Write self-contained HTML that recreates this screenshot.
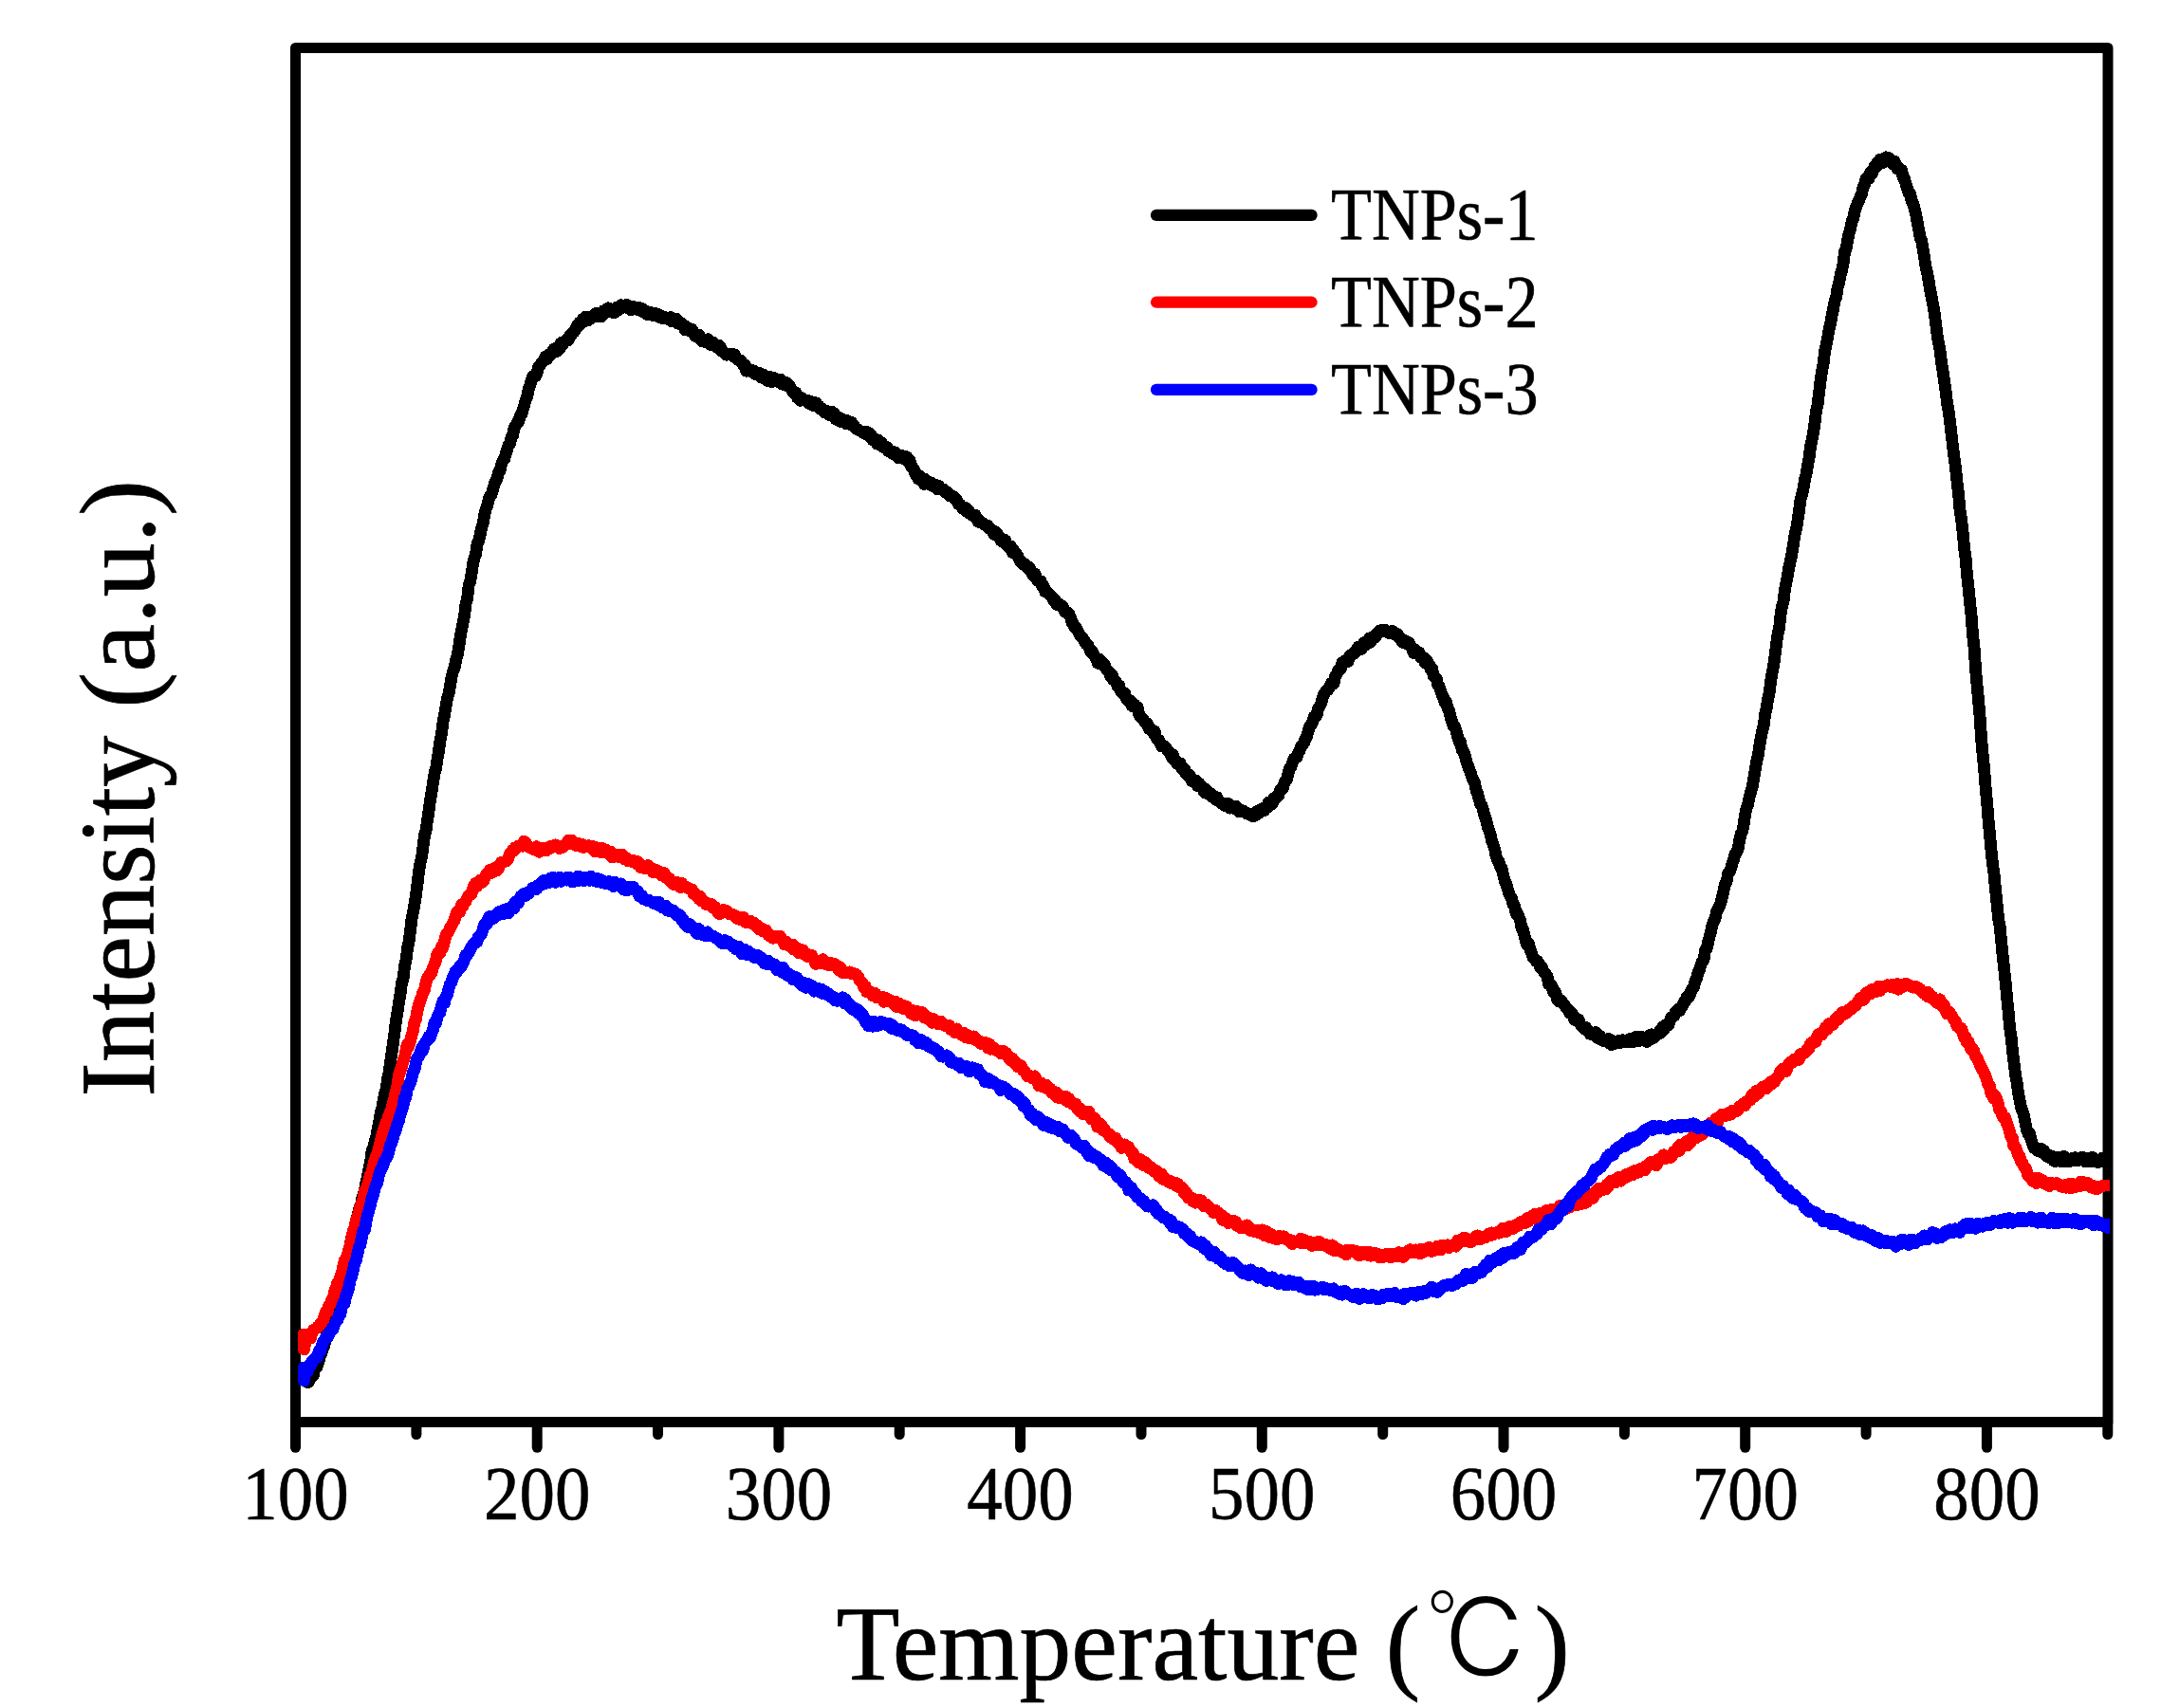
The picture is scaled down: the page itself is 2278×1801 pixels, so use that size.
<!DOCTYPE html>
<html lang="en"><head><meta charset="utf-8"><title>TPD profiles</title>
<style>html,body{margin:0;padding:0;background:#fff}svg{display:block}</style></head>
<body>
<svg width="2278" height="1801" viewBox="0 0 2278 1801">
<rect x="0" y="0" width="2278" height="1801" fill="#fff"/>
<clipPath id="pc"><rect x="311.5" y="50.5" width="1912.5" height="1449.0"/></clipPath>
<g stroke="#000" stroke-width="11" fill="none" stroke-linecap="round">
<path d="M311.5 1499.5 V50.5 H2222.0 V1499.5 Z" stroke-linejoin="round"/>
<path d="M311.5 1500.5 V1526.3"/>
<path d="M438.9 1500.5 V1512.5"/>
<path d="M566.2 1500.5 V1526.3"/>
<path d="M693.5 1500.5 V1512.5"/>
<path d="M820.9 1500.5 V1526.3"/>
<path d="M948.2 1500.5 V1512.5"/>
<path d="M1075.6 1500.5 V1526.3"/>
<path d="M1203.0 1500.5 V1512.5"/>
<path d="M1330.3 1500.5 V1526.3"/>
<path d="M1457.7 1500.5 V1512.5"/>
<path d="M1585.0 1500.5 V1526.3"/>
<path d="M1712.4 1500.5 V1512.5"/>
<path d="M1839.7 1500.5 V1526.3"/>
<path d="M1967.1 1500.5 V1512.5"/>
<path d="M2094.4 1500.5 V1526.3"/>
<path d="M2221.8 1500.5 V1512.5"/>
</g>
<g clip-path="url(#pc)" fill="none" stroke-linejoin="round" stroke-linecap="round" shape-rendering="crispEdges"><path stroke="#000" stroke-width="12.8" d="M323.1 1456.8 324.6 1457.6 326.1 1455.9 327.6 1451.1 329.1 1450.0 330.6 1449.9 332.1 1441.3 333.6 1442.1 335.1 1438.2 336.6 1433.0 338.1 1428.4 339.6 1424.6 341.1 1420.8 342.6 1415.2 344.1 1408.9 345.6 1403.7 347.1 1399.1 348.6 1391.4 350.1 1384.5 351.6 1381.6 353.1 1372.7 354.6 1367.2 356.1 1365.3 357.6 1357.6 359.1 1352.9 360.6 1349.0 362.1 1343.8 363.6 1339.3 365.1 1331.8 366.6 1324.5 368.1 1318.2 369.6 1310.6 371.1 1303.1 372.6 1297.2 374.1 1294.6 375.6 1286.6 377.1 1281.6 378.6 1274.5 380.1 1274.4 381.6 1264.2 383.1 1259.0 384.6 1254.7 386.1 1245.6 387.6 1239.7 389.1 1231.2 390.6 1224.4 392.1 1213.3 393.6 1209.9 395.1 1203.6 396.6 1199.2 398.1 1190.1 399.6 1184.1 401.1 1173.9 402.6 1168.9 404.1 1161.0 405.6 1152.9 407.1 1148.5 408.6 1137.0 410.1 1130.7 411.6 1119.3 413.1 1109.4 414.6 1098.7 416.1 1087.6 417.6 1075.1 419.1 1067.1 420.6 1056.0 422.1 1047.3 423.6 1036.0 425.1 1031.6 426.6 1018.1 428.1 1011.8 429.6 999.2 431.1 992.8 432.6 981.1 434.1 968.1 435.6 961.3 437.1 952.7 438.6 943.1 440.1 931.4 441.6 918.8 443.1 909.8 444.6 903.6 446.1 892.2 447.6 880.5 449.1 875.3 450.6 864.4 452.1 854.6 453.6 843.4 455.1 834.4 456.6 824.6 458.1 814.8 459.6 810.6 461.1 800.0 462.6 791.1 464.1 780.6 465.6 773.3 467.1 760.4 468.6 753.7 470.1 744.2 471.6 735.5 473.1 731.3 474.6 722.5 476.1 713.6 477.6 707.7 479.1 704.4 480.6 696.3 482.1 691.3 483.6 682.9 485.1 672.1 486.6 663.9 488.1 656.3 489.6 649.0 491.1 636.0 492.6 631.7 494.1 617.3 495.6 613.4 497.1 604.9 498.6 594.4 500.1 588.1 501.6 584.3 503.1 573.1 504.6 570.2 506.1 564.0 507.6 557.0 509.1 552.5 510.6 543.6 512.1 537.3 513.6 533.3 515.1 526.7 516.6 522.6 518.1 521.6 519.6 516.2 521.1 510.9 522.6 506.6 524.1 504.9 525.6 497.9 527.1 496.3 528.6 489.5 530.1 485.5 531.6 484.4 533.1 478.9 534.6 474.2 536.1 469.3 537.6 467.5 539.1 460.6 540.6 459.4 542.1 450.9 543.6 449.0 545.1 445.9 546.6 445.3 548.1 438.7 549.6 437.2 551.1 432.6 552.6 427.7 554.1 421.8 555.6 418.7 557.1 410.6 558.6 406.7 560.1 401.2 561.6 397.3 563.1 395.8 564.6 396.6 566.1 392.9 567.6 386.4 569.1 385.5 570.6 382.7 572.1 381.3 573.6 379.4 575.1 375.7 576.6 378.6 578.1 374.1 579.6 373.8 581.1 373.6 582.6 369.7 584.1 367.8 585.6 369.2 587.1 370.5 588.6 368.8 590.1 367.2 591.6 361.3 593.1 363.2 594.6 360.9 596.1 359.9 597.6 357.6 599.1 358.9 600.6 354.1 602.1 353.1 603.6 351.0 605.1 350.1 606.6 347.6 608.1 344.0 609.6 344.3 611.1 339.8 612.6 340.6 614.1 336.6 615.6 339.3 617.1 334.2 618.6 334.4 620.1 337.7 621.6 334.8 623.1 335.6 624.6 334.1 626.1 333.9 627.6 330.8 629.1 333.0 630.6 330.0 632.1 334.1 633.6 333.9 635.1 333.0 636.6 327.6 638.1 327.5 639.6 326.1 641.1 324.7 642.6 327.7 644.1 328.8 645.6 326.7 647.1 329.9 648.6 329.2 650.1 324.3 651.6 326.8 653.1 326.2 654.6 321.8 656.1 324.1 657.6 324.1 659.1 323.8 660.6 321.4 662.1 324.9 663.6 324.7 665.1 326.7 666.6 326.5 668.1 323.6 669.6 325.5 671.1 326.1 672.6 326.8 674.1 324.5 675.6 325.0 677.1 328.5 678.6 326.6 680.1 329.0 681.6 331.5 683.1 328.8 684.6 329.1 686.1 330.9 687.6 332.4 689.1 329.9 690.6 331.7 692.1 330.8 693.6 333.8 695.1 334.6 696.6 332.7 698.1 333.7 699.6 336.0 701.1 334.7 702.6 335.6 704.1 336.3 705.6 337.4 707.1 334.5 708.6 338.9 710.1 338.7 711.6 337.4 713.1 336.3 714.6 341.1 716.1 339.5 717.6 340.4 719.1 341.6 720.6 342.5 722.1 348.0 723.6 344.7 725.1 345.5 726.6 348.7 728.1 348.2 729.6 347.5 731.1 350.1 732.6 354.0 734.1 353.3 735.6 356.0 737.1 353.3 738.6 358.4 740.1 359.9 741.6 360.2 743.1 360.2 744.6 359.7 746.1 357.7 747.6 361.1 749.1 363.4 750.6 360.9 752.1 361.1 753.6 364.2 755.1 365.3 756.6 366.7 758.1 364.2 759.6 366.4 761.1 370.6 762.6 370.9 764.1 372.4 765.6 374.2 767.1 374.1 768.6 373.9 770.1 374.3 771.6 373.1 773.1 375.8 774.6 374.1 776.1 377.8 777.6 379.1 779.1 379.9 780.6 380.0 782.1 382.3 783.6 385.1 785.1 385.0 786.6 391.2 788.1 390.1 789.6 389.5 791.1 390.1 792.6 392.1 794.1 390.7 795.6 393.7 797.1 395.1 798.6 393.6 800.1 393.0 801.6 396.4 803.1 398.3 804.6 394.9 806.1 399.0 807.6 399.8 809.1 401.5 810.6 397.5 812.1 397.7 813.6 402.8 815.1 398.4 816.6 398.9 818.1 401.8 819.6 401.2 821.1 402.9 822.6 400.1 824.1 405.0 825.6 402.4 827.1 406.0 828.6 403.3 830.1 406.9 831.6 405.9 833.1 409.0 834.6 410.6 836.1 413.9 837.6 414.5 839.1 413.8 840.6 419.7 842.1 420.5 843.6 422.3 845.1 419.6 846.6 421.7 848.1 422.0 849.6 422.4 851.1 421.9 852.6 425.2 854.1 423.3 855.6 423.8 857.1 427.5 858.6 426.6 860.1 424.8 861.6 428.8 863.1 428.1 864.6 431.3 866.1 430.4 867.6 433.3 869.1 435.0 870.6 434.4 872.1 433.7 873.6 436.9 875.1 437.9 876.6 434.1 878.1 435.4 879.6 436.2 881.1 442.2 882.6 442.7 884.1 440.3 885.6 444.4 887.1 441.4 888.6 443.8 890.1 444.6 891.6 446.7 893.1 443.6 894.6 445.8 896.1 447.6 897.6 445.3 899.1 447.8 900.6 449.3 902.1 452.0 903.6 452.2 905.1 453.4 906.6 454.3 908.1 454.9 909.6 456.4 911.1 456.7 912.6 457.8 914.1 455.4 915.6 456.4 917.1 460.9 918.6 458.9 920.1 464.2 921.6 463.5 923.1 462.9 924.6 468.1 926.1 464.4 927.6 467.4 929.1 466.6 930.6 471.3 932.1 469.8 933.6 472.9 935.1 471.5 936.6 475.8 938.1 476.1 939.6 476.2 941.1 478.6 942.6 476.8 944.1 477.3 945.6 480.4 947.1 483.1 948.6 480.6 950.1 482.6 951.6 480.7 953.1 483.9 954.6 484.9 956.1 481.8 957.6 487.2 959.1 485.5 960.6 492.2 962.1 493.1 963.6 495.6 965.1 500.4 966.6 500.8 968.1 505.1 969.6 501.7 971.1 506.1 972.6 507.3 974.1 510.5 975.6 505.5 977.1 509.2 978.6 510.4 980.1 510.1 981.6 508.8 983.1 512.6 984.6 511.1 986.1 511.4 987.6 515.6 989.1 512.0 990.6 513.8 992.1 516.0 993.6 516.5 995.1 516.4 996.6 519.4 998.1 518.6 999.6 520.4 1001.1 522.9 1002.6 523.3 1004.1 523.4 1005.6 523.8 1007.1 526.4 1008.6 527.1 1010.1 531.3 1011.6 531.5 1013.1 533.4 1014.6 536.3 1016.1 536.0 1017.6 535.4 1019.1 539.5 1020.6 537.9 1022.1 541.3 1023.6 542.6 1025.1 542.5 1026.6 544.2 1028.1 543.0 1029.6 546.5 1031.1 550.2 1032.6 549.1 1034.1 551.0 1035.6 551.5 1037.1 552.6 1038.6 553.5 1040.1 554.9 1041.6 554.6 1043.1 557.3 1044.6 558.5 1046.1 559.5 1047.6 563.5 1049.1 560.6 1050.6 563.0 1052.1 563.9 1053.6 567.0 1055.1 570.1 1056.6 570.9 1058.1 568.8 1059.6 569.5 1061.1 574.9 1062.6 574.7 1064.1 577.5 1065.6 575.9 1067.1 582.5 1068.6 580.3 1070.1 583.2 1071.6 584.2 1073.1 586.9 1074.6 590.3 1076.1 592.9 1077.6 592.9 1079.1 595.5 1080.6 594.9 1082.1 596.9 1083.6 599.3 1085.1 598.3 1086.6 601.0 1088.1 605.2 1089.6 607.4 1091.1 604.9 1092.6 610.6 1094.1 612.5 1095.6 612.6 1097.1 612.7 1098.6 618.0 1100.1 618.1 1101.6 623.6 1103.1 623.7 1104.6 625.7 1106.1 626.0 1107.6 628.2 1109.1 629.9 1110.6 633.1 1112.1 632.1 1113.6 637.4 1115.1 635.9 1116.6 637.3 1118.1 638.0 1119.6 638.9 1121.1 642.0 1122.6 645.2 1124.1 645.8 1125.6 645.7 1127.1 647.9 1128.6 651.4 1130.1 656.7 1131.6 658.0 1133.1 661.8 1134.6 662.1 1136.1 665.2 1137.6 668.1 1139.1 670.7 1140.6 672.0 1142.1 674.0 1143.6 677.0 1145.1 679.2 1146.6 679.6 1148.1 683.1 1149.6 687.1 1151.1 686.7 1152.6 689.7 1154.1 692.3 1155.6 694.1 1157.1 699.2 1158.6 694.9 1160.1 696.7 1161.6 697.7 1163.1 701.8 1164.6 701.4 1166.1 705.3 1167.6 706.7 1169.1 708.8 1170.6 712.8 1172.1 711.3 1173.6 716.7 1175.1 717.1 1176.6 719.3 1178.1 723.7 1179.6 722.5 1181.1 728.2 1182.6 730.4 1184.1 732.1 1185.6 730.8 1187.1 736.2 1188.6 737.6 1190.1 740.2 1191.6 738.7 1193.1 744.2 1194.6 745.1 1196.1 742.9 1197.6 745.7 1199.1 745.4 1200.6 752.7 1202.1 755.8 1203.6 757.6 1205.1 758.2 1206.6 761.2 1208.1 762.1 1209.6 763.4 1211.1 768.2 1212.6 768.1 1214.1 769.1 1215.6 772.7 1217.1 771.1 1218.6 777.6 1220.1 779.5 1221.6 780.2 1223.1 784.3 1224.6 786.9 1226.1 786.8 1227.6 787.0 1229.1 788.7 1230.6 791.1 1232.1 792.7 1233.6 794.2 1235.1 798.4 1236.6 796.1 1238.1 801.6 1239.6 802.6 1241.1 805.7 1242.6 804.9 1244.1 804.8 1245.6 810.6 1247.1 809.4 1248.6 810.6 1250.1 816.0 1251.6 817.3 1253.1 816.6 1254.6 818.3 1256.1 823.4 1257.6 821.6 1259.1 824.8 1260.6 823.1 1262.1 828.4 1263.6 825.5 1265.1 829.1 1266.6 828.7 1268.1 832.3 1269.6 835.5 1271.1 832.2 1272.6 833.9 1274.1 837.5 1275.6 838.1 1277.1 837.1 1278.6 840.6 1280.1 840.4 1281.6 843.4 1283.1 840.8 1284.6 844.7 1286.1 845.3 1287.6 847.4 1289.1 846.9 1290.6 849.0 1292.1 849.7 1293.6 848.4 1295.1 847.4 1296.6 852.1 1298.1 851.9 1299.6 849.8 1301.1 852.5 1302.6 850.0 1304.1 851.9 1305.6 855.5 1307.1 853.5 1308.6 854.8 1310.1 856.0 1311.6 855.5 1313.1 856.9 1314.6 858.1 1316.1 858.1 1317.6 858.2 1319.1 860.2 1320.6 858.3 1322.1 860.4 1323.6 860.0 1325.1 855.6 1326.6 857.5 1328.1 856.1 1329.6 853.3 1331.1 852.4 1332.6 854.8 1334.1 851.4 1335.6 851.8 1337.1 846.3 1338.6 848.3 1340.1 848.4 1341.6 846.9 1343.1 841.4 1344.6 841.8 1346.1 838.9 1347.6 839.5 1349.1 833.7 1350.6 831.6 1352.1 831.7 1353.6 826.8 1355.1 823.0 1356.6 821.7 1358.1 814.6 1359.6 809.7 1361.1 808.4 1362.6 803.7 1364.1 799.9 1365.6 799.1 1367.1 798.5 1368.6 793.6 1370.1 791.2 1371.6 787.2 1373.1 785.3 1374.6 783.3 1376.1 778.8 1377.6 776.4 1379.1 771.0 1380.6 765.6 1382.1 764.5 1383.6 761.3 1385.1 756.1 1386.6 756.2 1388.1 754.0 1389.6 746.8 1391.1 744.8 1392.6 741.9 1394.1 735.8 1395.6 732.0 1397.1 729.8 1398.6 728.4 1400.1 727.0 1401.6 724.7 1403.1 720.6 1404.6 721.7 1406.1 720.3 1407.6 712.8 1409.1 710.9 1410.6 706.7 1412.1 706.4 1413.6 704.6 1415.1 698.4 1416.6 698.2 1418.1 696.4 1419.6 696.7 1421.1 697.6 1422.6 691.9 1424.1 690.6 1425.6 690.5 1427.1 688.7 1428.6 688.1 1430.1 685.3 1431.6 682.4 1433.1 682.8 1434.6 684.8 1436.1 683.1 1437.6 677.8 1439.1 680.6 1440.6 676.3 1442.1 678.2 1443.6 672.9 1445.1 676.8 1446.6 671.7 1448.1 671.8 1449.6 672.0 1451.1 669.6 1452.6 666.5 1454.1 665.1 1455.6 666.0 1457.1 663.9 1458.6 665.0 1460.1 664.3 1461.6 665.9 1463.1 666.1 1464.6 667.8 1466.1 666.1 1467.6 665.2 1469.1 667.4 1470.6 669.5 1472.1 668.1 1473.6 669.1 1475.1 672.8 1476.6 673.0 1478.1 676.7 1479.6 677.5 1481.1 675.6 1482.6 678.7 1484.1 676.9 1485.6 678.3 1487.1 681.1 1488.6 684.4 1490.1 688.4 1491.6 684.9 1493.1 688.0 1494.6 688.8 1496.1 687.9 1497.6 693.2 1499.1 694.0 1500.6 693.2 1502.1 699.1 1503.6 696.0 1505.1 698.5 1506.6 700.8 1508.1 706.1 1509.6 704.6 1511.1 712.8 1512.6 714.2 1514.1 715.2 1515.6 721.7 1517.1 723.5 1518.6 728.3 1520.1 732.5 1521.6 735.6 1523.1 741.1 1524.6 740.4 1526.1 747.1 1527.6 749.7 1529.1 756.4 1530.6 760.9 1532.1 765.8 1533.6 766.0 1535.1 770.8 1536.6 777.2 1538.1 782.0 1539.6 782.5 1541.1 790.5 1542.6 792.3 1544.1 795.8 1545.6 802.2 1547.1 806.4 1548.6 810.8 1550.1 814.2 1551.6 819.4 1553.1 822.5 1554.6 825.5 1556.1 833.5 1557.6 836.8 1559.1 842.4 1560.6 847.8 1562.1 849.4 1563.6 854.6 1565.1 860.6 1566.6 864.5 1568.1 871.5 1569.6 875.5 1571.1 879.8 1572.6 886.7 1574.1 890.8 1575.6 895.3 1577.1 903.0 1578.6 907.4 1580.1 908.8 1581.6 914.6 1583.1 915.7 1584.6 922.5 1586.1 928.5 1587.6 931.9 1589.1 936.4 1590.6 942.0 1592.1 945.3 1593.6 947.1 1595.1 954.1 1596.6 955.2 1598.1 963.5 1599.6 963.1 1601.1 967.0 1602.6 970.5 1604.1 979.3 1605.6 980.1 1607.1 986.8 1608.6 993.4 1610.1 997.0 1611.6 995.1 1613.1 1001.6 1614.6 1005.2 1616.1 1009.5 1617.6 1010.9 1619.1 1013.3 1620.6 1013.4 1622.1 1015.7 1623.6 1020.2 1625.1 1019.7 1626.6 1023.3 1628.1 1025.7 1629.6 1027.2 1631.1 1029.6 1632.6 1037.9 1634.1 1037.6 1635.6 1039.4 1637.1 1045.4 1638.6 1044.5 1640.1 1047.9 1641.6 1053.7 1643.1 1055.9 1644.6 1055.7 1646.1 1055.2 1647.6 1058.6 1649.1 1059.4 1650.6 1062.2 1652.1 1063.2 1653.6 1065.2 1655.1 1068.6 1656.6 1068.0 1658.1 1070.1 1659.6 1075.3 1661.1 1073.2 1662.6 1075.3 1664.1 1075.2 1665.6 1079.6 1667.1 1081.6 1668.6 1082.5 1670.1 1085.0 1671.6 1083.4 1673.1 1086.0 1674.6 1087.8 1676.1 1090.3 1677.6 1089.3 1679.1 1089.0 1680.6 1089.7 1682.1 1088.6 1683.6 1094.4 1685.1 1091.9 1686.6 1092.4 1688.1 1096.2 1689.6 1097.5 1691.1 1097.7 1692.6 1096.4 1694.1 1096.0 1695.6 1095.4 1697.1 1100.1 1698.6 1101.6 1700.1 1097.4 1701.6 1100.6 1703.1 1098.6 1704.6 1098.5 1706.1 1099.4 1707.6 1097.0 1709.1 1099.2 1710.6 1096.8 1712.1 1098.4 1713.6 1097.7 1715.1 1098.9 1716.6 1098.8 1718.1 1095.4 1719.6 1095.1 1721.1 1098.7 1722.6 1095.7 1724.1 1093.5 1725.6 1093.6 1727.1 1098.0 1728.6 1094.9 1730.1 1093.0 1731.6 1095.8 1733.1 1095.8 1734.6 1095.3 1736.1 1098.5 1737.6 1097.5 1739.1 1091.6 1740.6 1090.9 1742.1 1093.0 1743.6 1094.4 1745.1 1092.0 1746.6 1091.3 1748.1 1090.0 1749.6 1086.9 1751.1 1088.6 1752.6 1082.6 1754.1 1085.4 1755.6 1080.9 1757.1 1080.2 1758.6 1081.2 1760.1 1077.4 1761.6 1072.8 1763.1 1072.3 1764.6 1071.5 1766.1 1067.4 1767.6 1066.5 1769.1 1064.1 1770.6 1065.7 1772.1 1062.7 1773.6 1060.3 1775.1 1056.9 1776.6 1056.2 1778.1 1050.9 1779.6 1052.4 1781.1 1049.6 1782.6 1045.1 1784.1 1042.2 1785.6 1040.4 1787.1 1033.6 1788.6 1031.8 1790.1 1024.8 1791.6 1022.6 1793.1 1016.8 1794.6 1013.5 1796.1 1012.0 1797.6 1001.6 1799.1 1000.9 1800.6 993.5 1802.1 987.7 1803.6 982.1 1805.1 975.4 1806.6 971.1 1808.1 968.0 1809.6 961.3 1811.1 958.6 1812.6 955.5 1814.1 951.2 1815.6 945.4 1817.1 938.7 1818.6 931.4 1820.1 930.0 1821.6 920.8 1823.1 919.7 1824.6 915.9 1826.1 910.1 1827.6 906.1 1829.1 899.9 1830.6 899.1 1832.1 895.1 1833.6 886.6 1835.1 879.6 1836.6 876.8 1838.1 869.6 1839.6 859.0 1841.1 851.9 1842.6 848.1 1844.1 840.5 1845.6 835.1 1847.1 830.1 1848.6 821.6 1850.1 813.0 1851.6 803.2 1853.1 797.5 1854.6 787.5 1856.1 778.7 1857.6 771.1 1859.1 765.4 1860.6 753.5 1862.1 747.2 1863.6 737.2 1865.1 730.6 1866.6 719.0 1868.1 709.3 1869.6 702.1 1871.1 691.2 1872.6 678.1 1874.1 667.8 1875.6 662.1 1877.1 647.4 1878.6 639.1 1880.1 634.0 1881.6 620.8 1883.1 613.4 1884.6 605.6 1886.1 597.0 1887.6 590.6 1889.1 583.1 1890.6 573.6 1892.1 562.7 1893.6 557.1 1895.1 548.0 1896.6 537.9 1898.1 526.4 1899.6 521.3 1901.1 514.5 1902.6 505.4 1904.1 499.8 1905.6 490.4 1907.1 482.6 1908.6 470.1 1910.1 463.6 1911.6 455.7 1913.1 445.6 1914.6 432.7 1916.1 426.5 1917.6 413.7 1919.1 401.3 1920.6 391.1 1922.1 383.7 1923.6 370.7 1925.1 363.7 1926.6 356.0 1928.1 347.0 1929.6 341.3 1931.1 332.4 1932.6 325.8 1934.1 317.0 1935.6 313.9 1937.1 303.3 1938.6 298.6 1940.1 290.1 1941.6 285.2 1943.1 277.5 1944.6 265.4 1946.1 262.9 1947.6 253.7 1949.1 245.9 1950.6 241.8 1952.1 233.0 1953.6 230.7 1955.1 223.1 1956.6 218.2 1958.1 214.2 1959.6 211.6 1961.1 207.4 1962.6 204.1 1964.1 197.1 1965.6 194.6 1967.1 187.9 1968.6 186.9 1970.1 188.4 1971.6 181.9 1973.1 183.4 1974.6 179.5 1976.1 175.5 1977.6 175.6 1979.1 171.2 1980.6 173.1 1982.1 168.0 1983.6 167.9 1985.1 171.4 1986.6 168.9 1988.1 165.8 1989.6 167.6 1991.1 166.7 1992.6 168.4 1994.1 171.0 1995.6 173.2 1997.1 169.9 1998.6 173.7 2000.1 178.1 2001.6 176.8 2003.1 179.9 2004.6 179.3 2006.1 187.2 2007.6 188.5 2009.1 194.5 2010.6 198.6 2012.1 203.9 2013.6 203.8 2015.1 212.0 2016.6 214.0 2018.1 219.6 2019.6 226.0 2021.1 234.0 2022.6 241.7 2024.1 250.8 2025.6 253.2 2027.1 262.3 2028.6 271.6 2030.1 281.6 2031.6 288.2 2033.1 295.9 2034.6 305.4 2036.1 312.9 2037.6 321.0 2039.1 329.0 2040.6 341.1 2042.1 353.5 2043.6 361.9 2045.1 369.8 2046.6 382.1 2048.1 391.2 2049.6 402.3 2051.1 412.6 2052.6 425.3 2054.1 433.4 2055.6 445.2 2057.1 457.9 2058.6 471.2 2060.1 482.9 2061.6 494.2 2063.1 508.9 2064.6 521.6 2066.1 538.5 2067.6 547.8 2069.1 561.0 2070.6 578.0 2072.1 588.5 2073.6 607.1 2075.1 620.1 2076.6 635.6 2078.1 649.1 2079.6 670.2 2081.1 683.1 2082.6 706.1 2084.1 723.1 2085.6 738.7 2087.1 756.3 2088.6 778.8 2090.1 795.4 2091.6 810.9 2093.1 830.4 2094.6 846.3 2096.1 864.7 2097.6 880.9 2099.1 897.6 2100.6 911.7 2102.1 922.1 2103.6 938.9 2105.1 953.0 2106.6 968.6 2108.1 976.8 2109.6 991.9 2111.1 1007.4 2112.6 1021.1 2114.1 1035.1 2115.6 1052.0 2117.1 1066.5 2118.6 1084.0 2120.1 1093.5 2121.6 1108.8 2123.1 1121.0 2124.6 1134.0 2126.1 1141.3 2127.6 1153.3 2129.1 1160.6 2130.6 1168.3 2132.1 1171.6 2133.6 1177.0 2135.1 1184.7 2136.6 1191.9 2138.1 1195.6 2139.6 1195.2 2141.1 1201.7 2142.6 1206.4 2144.1 1210.2 2145.6 1210.4 2147.1 1212.5 2148.6 1213.6 2150.1 1211.9 2151.6 1211.1 2153.1 1215.5 2154.6 1213.5 2156.1 1215.5 2157.6 1219.3 2159.1 1217.7 2160.6 1218.3 2162.1 1221.6 2163.6 1219.4 2165.1 1224.1 2166.6 1224.5 2168.1 1221.4 2169.6 1220.7 2171.1 1220.1 2172.6 1224.9 2174.1 1220.5 2175.6 1219.3 2177.1 1225.0 2178.6 1223.5 2180.1 1223.5 2181.6 1224.7 2183.1 1221.8 2184.6 1222.0 2186.1 1223.4 2187.6 1220.7 2189.1 1223.0 2190.6 1223.7 2192.1 1223.0 2193.6 1222.7 2195.1 1220.0 2196.6 1221.2 2198.1 1225.0 2199.6 1221.2 2201.1 1223.9 2202.6 1221.4 2204.1 1225.1 2205.6 1220.5 2207.1 1221.4 2208.6 1222.5 2210.1 1223.3 2211.6 1225.7 2213.1 1224.5 2214.6 1222.7 2216.1 1221.1 2217.6 1224.5 2219.1 1225.3 2220.6 1220.9 2222.1 1224.0 2223.6 1220.5 2225.1 1222.1 2228.0 1222.1"/>
<path stroke="#f00" stroke-width="12.8" d="M320.0 1407.0 320.6 1423.0 321.3 1417.7 322.8 1414.3 324.3 1410.7 325.8 1409.6 327.3 1411.3 328.8 1405.1 330.3 1402.4 331.8 1401.6 333.3 1401.0 334.8 1399.2 336.3 1398.4 337.8 1395.9 339.3 1394.3 340.8 1392.0 342.3 1386.9 343.8 1382.4 345.3 1383.8 346.8 1376.3 348.3 1375.5 349.8 1370.1 351.3 1369.4 352.8 1360.9 354.3 1357.7 355.8 1352.5 357.3 1352.3 358.8 1346.6 360.3 1342.6 361.8 1335.7 363.3 1328.9 364.8 1327.7 366.3 1322.7 367.8 1317.1 369.3 1312.4 370.8 1305.5 372.3 1297.8 373.8 1294.1 375.3 1287.0 376.8 1284.0 378.3 1277.6 379.8 1272.6 381.3 1269.4 382.8 1264.5 384.3 1256.2 385.8 1254.6 387.3 1250.4 388.8 1245.5 390.3 1238.8 391.8 1237.0 393.3 1229.9 394.8 1224.1 396.3 1220.0 397.8 1217.4 399.3 1210.5 400.8 1205.6 402.3 1199.8 403.8 1193.6 405.3 1188.7 406.8 1183.9 408.3 1183.0 409.8 1176.6 411.3 1172.8 412.8 1169.9 414.3 1163.1 415.8 1157.8 417.3 1150.9 418.8 1145.8 420.3 1134.1 421.8 1129.4 423.3 1125.8 424.8 1118.7 426.3 1115.7 427.8 1107.7 429.3 1101.3 430.8 1103.6 432.3 1098.1 433.8 1092.3 435.3 1087.8 436.8 1078.0 438.3 1075.2 439.8 1066.5 441.3 1060.4 442.8 1055.4 444.3 1051.6 445.8 1046.8 447.3 1044.4 448.8 1036.7 450.3 1032.2 451.8 1029.1 453.3 1027.8 454.8 1026.0 456.3 1020.4 457.8 1017.3 459.3 1013.5 460.8 1006.3 462.3 1004.0 463.8 1005.0 465.3 998.3 466.8 999.4 468.3 993.3 469.8 987.6 471.3 983.7 472.8 982.5 474.3 978.9 475.8 976.5 477.3 973.5 478.8 970.7 480.3 966.2 481.8 961.5 483.3 960.7 484.8 961.6 486.3 954.1 487.8 955.9 489.3 952.3 490.8 951.0 492.3 947.3 493.8 944.7 495.3 943.0 496.8 942.8 498.3 937.4 499.8 934.0 501.3 931.3 502.8 934.6 504.3 930.2 505.8 928.6 507.3 929.5 508.8 930.3 510.3 927.9 511.8 923.1 513.3 921.6 514.8 920.6 516.3 917.2 517.8 920.4 519.3 917.3 520.8 915.4 522.3 918.3 523.8 918.0 525.3 916.2 526.8 911.6 528.3 909.4 529.8 909.3 531.3 908.7 532.8 908.3 534.3 907.3 535.8 905.5 537.3 900.0 538.8 899.2 540.3 896.4 541.8 897.0 543.3 893.7 544.8 893.7 546.3 892.0 547.8 891.5 549.3 890.9 550.8 892.2 552.3 887.2 553.8 888.3 555.3 891.1 556.8 892.3 558.3 893.7 559.8 894.4 561.3 895.3 562.8 895.1 564.3 896.3 565.8 892.7 567.3 894.9 568.8 898.3 570.3 895.4 571.8 896.4 573.3 894.6 574.8 895.1 576.3 896.5 577.8 895.4 579.3 893.7 580.8 892.0 582.3 893.5 583.8 892.3 585.3 890.8 586.8 893.0 588.3 892.5 589.8 894.7 591.3 892.2 592.8 893.5 594.3 891.3 595.8 890.7 597.3 890.3 598.8 886.3 600.3 888.0 601.8 888.4 603.3 886.5 604.8 890.2 606.3 890.4 607.8 892.1 609.3 889.2 610.8 890.0 612.3 892.7 613.8 890.3 615.3 893.4 616.8 892.1 618.3 892.0 619.8 891.9 621.3 891.8 622.8 893.5 624.3 892.4 625.8 896.6 627.3 898.0 628.8 893.8 630.3 894.2 631.8 894.3 633.3 898.7 634.8 894.4 636.3 898.8 637.8 896.3 639.3 896.4 640.8 898.0 642.3 901.3 643.8 898.0 645.3 904.0 646.8 902.4 648.3 901.0 649.8 901.3 651.3 903.4 652.8 902.6 654.3 901.5 655.8 901.2 657.3 902.7 658.8 906.2 660.3 904.6 661.8 907.6 663.3 907.7 664.8 907.4 666.3 907.0 667.8 909.2 669.3 908.9 670.8 910.9 672.3 908.7 673.8 910.9 675.3 914.7 676.8 912.5 678.3 915.1 679.8 915.9 681.3 913.9 682.8 912.5 684.3 915.9 685.8 916.2 687.3 915.6 688.8 920.1 690.3 918.9 691.8 917.6 693.3 918.2 694.8 919.3 696.3 922.1 697.8 923.1 699.3 920.3 700.8 921.4 702.3 925.6 703.8 925.5 705.3 926.0 706.8 929.0 708.3 930.6 709.8 932.5 711.3 932.1 712.8 930.1 714.3 931.2 715.8 933.5 717.3 935.6 718.8 931.6 720.3 934.5 721.8 934.9 723.3 935.4 724.8 936.0 726.3 936.7 727.8 937.8 729.3 937.9 730.8 941.9 732.3 941.7 733.8 944.5 735.3 944.9 736.8 947.9 738.3 945.4 739.8 950.2 741.3 949.3 742.8 951.3 744.3 953.5 745.8 952.5 747.3 953.2 748.8 954.9 750.3 953.5 751.8 957.5 753.3 956.1 754.8 958.1 756.3 961.1 757.8 963.5 759.3 963.5 760.8 960.2 762.3 959.5 763.8 960.9 765.3 961.5 766.8 960.9 768.3 963.3 769.8 964.0 771.3 964.1 772.8 964.5 774.3 965.3 775.8 966.5 777.3 968.7 778.8 969.0 780.3 969.5 781.8 970.2 783.3 967.0 784.8 969.8 786.3 972.4 787.8 970.9 789.3 973.1 790.8 971.2 792.3 972.6 793.8 974.3 795.3 973.4 796.8 976.5 798.3 975.6 799.8 979.6 801.3 978.1 802.8 979.1 804.3 981.9 805.8 982.3 807.3 980.7 808.8 983.1 810.3 986.4 811.8 985.7 813.3 986.9 814.8 989.2 816.3 988.3 817.8 987.1 819.3 988.5 820.8 989.0 822.3 987.2 823.8 990.0 825.3 991.8 826.8 995.9 828.3 992.8 829.8 994.7 831.3 995.0 832.8 997.8 834.3 999.2 835.8 996.1 837.3 1001.2 838.8 1001.1 840.3 1000.0 841.8 1004.7 843.3 1001.5 844.8 1005.2 846.3 1001.8 847.8 1004.4 849.3 1005.0 850.8 1008.5 852.3 1009.0 853.8 1008.5 855.3 1007.1 856.8 1010.8 858.3 1011.6 859.8 1016.4 861.3 1014.7 862.8 1013.8 864.3 1013.6 865.8 1015.6 867.3 1011.8 868.8 1016.2 870.3 1015.6 871.8 1014.8 873.3 1017.5 874.8 1016.4 876.3 1015.5 877.8 1017.7 879.3 1016.2 880.8 1017.0 882.3 1019.4 883.8 1022.7 885.3 1019.5 886.8 1022.0 888.3 1025.4 889.8 1025.2 891.3 1026.1 892.8 1025.8 894.3 1025.3 895.8 1024.9 897.3 1026.5 898.8 1026.2 900.3 1026.7 901.8 1027.3 903.3 1028.3 904.8 1030.3 906.3 1034.0 907.8 1035.3 909.3 1036.4 910.8 1041.4 912.3 1040.1 913.8 1046.0 915.3 1045.7 916.8 1045.3 918.3 1046.3 919.8 1050.0 921.3 1047.0 922.8 1047.6 924.3 1051.8 925.8 1051.1 927.3 1052.1 928.8 1052.7 930.3 1051.4 931.8 1056.3 933.3 1055.9 934.8 1052.7 936.3 1056.1 937.8 1054.4 939.3 1055.9 940.8 1056.5 942.3 1059.3 943.8 1056.2 945.3 1061.6 946.8 1059.2 948.3 1058.3 949.8 1060.1 951.3 1059.8 952.8 1064.1 954.3 1062.9 955.8 1061.4 957.3 1065.2 958.8 1066.0 960.3 1068.6 961.8 1065.4 963.3 1070.3 964.8 1070.8 966.3 1066.0 967.8 1068.0 969.3 1067.1 970.8 1069.8 972.3 1067.7 973.8 1072.7 975.3 1070.6 976.8 1073.4 978.3 1074.7 979.8 1074.1 981.3 1073.8 982.8 1078.3 984.3 1074.7 985.8 1075.8 987.3 1076.6 988.8 1079.6 990.3 1078.0 991.8 1076.9 993.3 1079.8 994.8 1080.9 996.3 1081.4 997.8 1081.4 999.3 1081.7 1000.8 1081.6 1002.3 1085.7 1003.8 1086.1 1005.3 1085.8 1006.8 1089.1 1008.3 1084.9 1009.8 1088.5 1011.3 1088.8 1012.8 1090.7 1014.3 1091.1 1015.8 1089.0 1017.3 1093.4 1018.8 1091.1 1020.3 1092.4 1021.8 1094.9 1023.3 1092.8 1024.8 1094.0 1026.3 1092.8 1027.8 1096.5 1029.3 1095.8 1030.8 1097.2 1032.3 1097.4 1033.8 1100.3 1035.3 1100.1 1036.8 1100.8 1038.3 1099.2 1039.8 1100.2 1041.3 1104.9 1042.8 1100.7 1044.3 1106.2 1045.8 1104.1 1047.3 1104.9 1048.8 1106.2 1050.3 1107.5 1051.8 1108.1 1053.3 1108.3 1054.8 1110.7 1056.3 1108.7 1057.8 1108.5 1059.3 1111.2 1060.8 1110.5 1062.3 1114.2 1063.8 1116.2 1065.3 1118.4 1066.8 1115.7 1068.3 1118.2 1069.8 1121.6 1071.3 1120.4 1072.8 1124.8 1074.3 1125.2 1075.8 1123.3 1077.3 1125.9 1078.8 1129.1 1080.3 1129.8 1081.8 1132.0 1083.3 1135.0 1084.8 1134.5 1086.3 1134.5 1087.8 1136.8 1089.3 1136.6 1090.8 1134.8 1092.3 1138.3 1093.8 1141.5 1095.3 1144.9 1096.8 1143.2 1098.3 1142.3 1099.8 1146.2 1101.3 1144.5 1102.8 1144.2 1104.3 1147.7 1105.8 1147.5 1107.3 1148.0 1108.8 1152.5 1110.3 1152.7 1111.8 1154.7 1113.3 1151.9 1114.8 1157.2 1116.3 1157.3 1117.8 1155.4 1119.3 1157.9 1120.8 1158.5 1122.3 1157.2 1123.8 1156.5 1125.3 1161.4 1126.8 1158.5 1128.3 1161.6 1129.8 1161.9 1131.3 1164.7 1132.8 1164.6 1134.3 1164.4 1135.8 1169.3 1137.3 1168.1 1138.8 1172.4 1140.3 1170.8 1141.8 1174.7 1143.3 1174.5 1144.8 1175.2 1146.3 1173.2 1147.8 1171.9 1149.3 1176.4 1150.8 1180.2 1152.3 1178.9 1153.8 1179.1 1155.3 1182.7 1156.8 1188.2 1158.3 1184.1 1159.8 1185.1 1161.3 1186.8 1162.8 1192.0 1164.3 1190.8 1165.8 1193.5 1167.3 1195.3 1168.8 1195.5 1170.3 1199.2 1171.8 1198.1 1173.3 1200.7 1174.8 1200.5 1176.3 1200.4 1177.8 1204.6 1179.3 1204.8 1180.8 1206.1 1182.3 1210.4 1183.8 1208.1 1185.3 1206.8 1186.8 1210.2 1188.3 1210.0 1189.8 1209.6 1191.3 1212.4 1192.8 1215.4 1194.3 1215.8 1195.8 1222.1 1197.3 1222.8 1198.8 1222.9 1200.3 1226.1 1201.8 1222.4 1203.3 1223.8 1204.8 1228.3 1206.3 1226.6 1207.8 1225.8 1209.3 1228.8 1210.8 1231.5 1212.3 1231.8 1213.8 1230.8 1215.3 1232.9 1216.8 1235.6 1218.3 1234.0 1219.8 1235.4 1221.3 1239.8 1222.8 1238.9 1224.3 1237.8 1225.8 1243.3 1227.3 1241.3 1228.8 1244.3 1230.3 1244.5 1231.8 1246.2 1233.3 1245.3 1234.8 1247.9 1236.3 1246.7 1237.8 1247.1 1239.3 1250.3 1240.8 1247.8 1242.3 1249.3 1243.8 1252.3 1245.3 1251.6 1246.8 1253.1 1248.3 1258.3 1249.8 1256.8 1251.3 1258.5 1252.8 1263.2 1254.3 1262.4 1255.8 1262.7 1257.3 1266.4 1258.8 1264.4 1260.3 1268.2 1261.8 1267.1 1263.3 1268.0 1264.8 1265.5 1266.3 1265.9 1267.8 1269.8 1269.3 1271.9 1270.8 1270.0 1272.3 1270.4 1273.8 1272.7 1275.3 1273.3 1276.8 1275.4 1278.3 1276.8 1279.8 1279.0 1281.3 1276.3 1282.8 1278.1 1284.3 1278.6 1285.8 1280.2 1287.3 1281.1 1288.8 1286.5 1290.3 1284.9 1291.8 1284.3 1293.3 1288.2 1294.8 1289.6 1296.3 1288.9 1297.8 1288.0 1299.3 1287.0 1300.8 1287.8 1302.3 1288.1 1303.8 1292.2 1305.3 1292.9 1306.8 1292.7 1308.3 1295.0 1309.8 1294.2 1311.3 1295.0 1312.8 1292.6 1314.3 1291.9 1315.8 1292.9 1317.3 1297.2 1318.8 1296.0 1320.3 1297.8 1321.8 1298.5 1323.3 1298.4 1324.8 1297.2 1326.3 1299.8 1327.8 1297.4 1329.3 1299.7 1330.8 1296.9 1332.3 1302.4 1333.8 1302.0 1335.3 1298.7 1336.8 1303.8 1338.3 1304.8 1339.8 1301.5 1341.3 1305.2 1342.8 1305.1 1344.3 1305.7 1345.8 1307.0 1347.3 1305.4 1348.8 1303.3 1350.3 1304.2 1351.8 1305.6 1353.3 1303.8 1354.8 1305.4 1356.3 1307.1 1357.8 1306.9 1359.3 1307.3 1360.8 1310.1 1362.3 1311.6 1363.8 1308.7 1365.3 1309.6 1366.8 1309.6 1368.3 1308.9 1369.8 1308.5 1371.3 1306.1 1372.8 1311.1 1374.3 1307.8 1375.8 1307.8 1377.3 1310.4 1378.8 1310.6 1380.3 1311.4 1381.8 1309.7 1383.3 1313.5 1384.8 1311.5 1386.3 1313.0 1387.8 1311.5 1389.3 1309.3 1390.8 1309.4 1392.3 1313.1 1393.8 1312.1 1395.3 1313.2 1396.8 1312.9 1398.3 1312.5 1399.8 1314.7 1401.3 1313.4 1402.8 1317.1 1404.3 1312.9 1405.8 1318.5 1407.3 1318.8 1408.8 1316.5 1410.3 1318.7 1411.8 1318.4 1413.3 1318.5 1414.8 1320.2 1416.3 1321.2 1417.8 1318.8 1419.3 1322.8 1420.8 1318.3 1422.3 1318.1 1423.8 1320.0 1425.3 1318.0 1426.8 1319.2 1428.3 1318.9 1429.8 1319.7 1431.3 1323.0 1432.8 1324.0 1434.3 1320.6 1435.8 1320.7 1437.3 1322.6 1438.8 1320.1 1440.3 1321.1 1441.8 1323.6 1443.3 1320.4 1444.8 1324.2 1446.3 1323.7 1447.8 1322.5 1449.3 1321.3 1450.8 1323.0 1452.3 1322.3 1453.8 1325.6 1455.3 1324.5 1456.8 1323.1 1458.3 1325.5 1459.8 1324.7 1461.3 1322.4 1462.8 1323.9 1464.3 1324.0 1465.8 1325.9 1467.3 1322.1 1468.8 1322.4 1470.3 1324.8 1471.8 1321.9 1473.3 1324.5 1474.8 1320.7 1476.3 1322.4 1477.8 1321.5 1479.3 1325.5 1480.8 1323.8 1482.3 1320.8 1483.8 1319.2 1485.3 1320.4 1486.8 1317.7 1488.3 1319.5 1489.8 1321.1 1491.3 1319.5 1492.8 1317.9 1494.3 1319.1 1495.8 1317.8 1497.3 1321.8 1498.8 1316.9 1500.3 1320.4 1501.8 1317.8 1503.3 1318.9 1504.8 1318.3 1506.3 1315.4 1507.8 1319.0 1509.3 1319.4 1510.8 1317.5 1512.3 1318.3 1513.8 1315.4 1515.3 1314.2 1516.8 1317.7 1518.3 1318.1 1519.8 1313.3 1521.3 1313.2 1522.8 1314.4 1524.3 1314.8 1525.8 1312.8 1527.3 1315.7 1528.8 1314.0 1530.3 1314.0 1531.8 1312.6 1533.3 1313.3 1534.8 1314.2 1536.3 1308.2 1537.8 1310.8 1539.3 1307.2 1540.8 1309.2 1542.3 1305.6 1543.8 1308.9 1545.3 1305.7 1546.8 1308.1 1548.3 1308.4 1549.8 1310.0 1551.3 1309.4 1552.8 1307.2 1554.3 1307.3 1555.8 1303.9 1557.3 1302.9 1558.8 1305.8 1560.3 1306.5 1561.8 1306.1 1563.3 1304.5 1564.8 1304.2 1566.3 1304.7 1567.8 1303.3 1569.3 1301.1 1570.8 1303.0 1572.3 1299.9 1573.8 1301.8 1575.3 1300.3 1576.8 1299.8 1578.3 1299.6 1579.8 1300.2 1581.3 1299.8 1582.8 1296.4 1584.3 1295.2 1585.8 1297.1 1587.3 1298.8 1588.8 1297.1 1590.3 1293.7 1591.8 1293.1 1593.3 1294.5 1594.8 1295.4 1596.3 1294.7 1597.8 1291.6 1599.3 1292.5 1600.8 1292.4 1602.3 1289.7 1603.8 1288.1 1605.3 1289.9 1606.8 1288.2 1608.3 1289.3 1609.8 1284.6 1611.3 1287.8 1612.8 1283.7 1614.3 1285.0 1615.8 1284.8 1617.3 1280.6 1618.8 1284.5 1620.3 1285.2 1621.8 1284.6 1623.3 1279.5 1624.8 1282.6 1626.3 1282.3 1627.8 1281.7 1629.3 1277.2 1630.8 1276.3 1632.3 1279.5 1633.8 1275.9 1635.3 1275.4 1636.8 1276.1 1638.3 1277.9 1639.8 1276.9 1641.3 1278.0 1642.8 1276.8 1644.3 1271.4 1645.8 1276.1 1647.3 1275.9 1648.8 1275.1 1650.3 1274.9 1651.8 1272.2 1653.3 1271.1 1654.8 1273.2 1656.3 1271.1 1657.8 1270.7 1659.3 1271.1 1660.8 1270.7 1662.3 1270.6 1663.8 1269.3 1665.3 1267.4 1666.8 1269.5 1668.3 1266.5 1669.8 1265.9 1671.3 1268.4 1672.8 1267.5 1674.3 1265.2 1675.8 1261.6 1677.3 1259.4 1678.8 1263.6 1680.3 1261.8 1681.8 1256.6 1683.3 1258.0 1684.8 1253.3 1686.3 1253.9 1687.8 1254.8 1689.3 1252.7 1690.8 1254.2 1692.3 1254.0 1693.8 1249.1 1695.3 1251.4 1696.8 1248.2 1698.3 1245.1 1699.8 1244.8 1701.3 1244.8 1702.8 1247.1 1704.3 1245.8 1705.8 1241.6 1707.3 1241.3 1708.8 1245.2 1710.3 1241.9 1711.8 1241.4 1713.3 1238.7 1714.8 1241.3 1716.3 1239.4 1717.8 1237.9 1719.3 1236.5 1720.8 1238.8 1722.3 1235.1 1723.8 1234.2 1725.3 1236.5 1726.8 1236.3 1728.3 1233.0 1729.8 1232.4 1731.3 1231.7 1732.8 1232.8 1734.3 1233.6 1735.8 1229.1 1737.3 1229.7 1738.8 1227.8 1740.3 1225.3 1741.8 1226.8 1743.3 1225.4 1744.8 1224.9 1746.3 1228.8 1747.8 1222.5 1749.3 1222.2 1750.8 1222.5 1752.3 1220.8 1753.8 1217.8 1755.3 1222.1 1756.8 1219.0 1758.3 1219.6 1759.8 1221.0 1761.3 1220.5 1762.8 1218.6 1764.3 1214.6 1765.8 1214.8 1767.3 1214.3 1768.8 1209.3 1770.3 1213.4 1771.8 1206.9 1773.3 1209.5 1774.8 1206.5 1776.3 1205.2 1777.8 1203.7 1779.3 1207.7 1780.8 1202.1 1782.3 1204.5 1783.8 1199.6 1785.3 1198.6 1786.8 1196.6 1788.3 1199.7 1789.8 1194.4 1791.3 1197.9 1792.8 1193.9 1794.3 1196.2 1795.8 1194.1 1797.3 1190.7 1798.8 1190.1 1800.3 1187.1 1801.8 1187.0 1803.3 1183.9 1804.8 1184.8 1806.3 1184.0 1807.8 1181.6 1809.3 1179.2 1810.8 1182.9 1812.3 1178.1 1813.8 1178.0 1815.3 1175.0 1816.8 1176.8 1818.3 1175.7 1819.8 1176.2 1821.3 1174.2 1822.8 1173.0 1824.3 1175.2 1825.8 1171.3 1827.3 1171.0 1828.8 1171.7 1830.3 1170.4 1831.8 1171.2 1833.3 1167.2 1834.8 1167.3 1836.3 1165.8 1837.8 1163.7 1839.3 1165.8 1840.8 1162.2 1842.3 1160.7 1843.8 1160.0 1845.3 1159.7 1846.8 1154.4 1848.3 1155.7 1849.8 1155.7 1851.3 1150.6 1852.8 1150.2 1854.3 1152.6 1855.8 1149.1 1857.3 1147.8 1858.8 1145.9 1860.3 1146.6 1861.8 1147.9 1863.3 1146.1 1864.8 1143.2 1866.3 1140.7 1867.8 1143.0 1869.3 1139.4 1870.8 1140.5 1872.3 1136.6 1873.8 1136.2 1875.3 1134.1 1876.8 1129.7 1878.3 1128.7 1879.8 1126.8 1881.3 1129.9 1882.8 1129.5 1884.3 1125.9 1885.8 1121.3 1887.3 1120.2 1888.8 1120.6 1890.3 1118.8 1891.8 1116.9 1893.3 1116.3 1894.8 1117.5 1896.3 1117.4 1897.8 1111.7 1899.3 1112.1 1900.8 1110.6 1902.3 1110.3 1903.8 1108.7 1905.3 1106.0 1906.8 1105.8 1908.3 1100.7 1909.8 1099.3 1911.3 1099.4 1912.8 1099.2 1914.3 1097.9 1915.8 1092.4 1917.3 1090.5 1918.8 1090.6 1920.3 1091.0 1921.8 1087.6 1923.3 1086.1 1924.8 1082.9 1926.3 1085.4 1927.8 1079.7 1929.3 1081.2 1930.8 1080.7 1932.3 1080.1 1933.8 1078.0 1935.3 1074.1 1936.8 1072.3 1938.3 1074.7 1939.8 1071.1 1941.3 1068.4 1942.8 1067.3 1944.3 1069.4 1945.8 1068.7 1947.3 1066.7 1948.8 1064.5 1950.3 1064.6 1951.8 1064.3 1953.3 1060.9 1954.8 1060.2 1956.3 1060.1 1957.8 1057.5 1959.3 1055.3 1960.8 1052.5 1962.3 1055.0 1963.8 1054.1 1965.3 1053.5 1966.8 1047.8 1968.3 1046.5 1969.8 1048.4 1971.3 1048.1 1972.8 1043.5 1974.3 1045.8 1975.8 1043.6 1977.3 1045.7 1978.8 1041.7 1980.3 1040.2 1981.8 1044.6 1983.3 1041.1 1984.8 1041.4 1986.3 1039.9 1987.8 1040.3 1989.3 1038.7 1990.8 1039.1 1992.3 1040.4 1993.8 1038.6 1995.3 1040.7 1996.8 1041.3 1998.3 1039.2 1999.8 1037.5 2001.3 1043.2 2002.8 1039.1 2004.3 1039.9 2005.8 1040.4 2007.3 1039.8 2008.8 1037.2 2010.3 1037.5 2011.8 1039.2 2013.3 1039.3 2014.8 1039.9 2016.3 1041.2 2017.8 1041.0 2019.3 1040.2 2020.8 1041.9 2022.3 1041.9 2023.8 1042.7 2025.3 1045.2 2026.8 1046.6 2028.3 1047.1 2029.8 1046.3 2031.3 1050.4 2032.8 1046.6 2034.3 1051.6 2035.8 1050.3 2037.3 1051.2 2038.8 1054.3 2040.3 1054.8 2041.8 1057.5 2043.3 1057.5 2044.8 1053.8 2046.3 1058.1 2047.8 1061.2 2049.3 1059.4 2050.8 1064.4 2052.3 1068.8 2053.8 1066.6 2055.3 1067.7 2056.8 1070.0 2058.3 1072.5 2059.8 1075.2 2061.3 1077.0 2062.8 1082.0 2064.3 1082.4 2065.8 1084.6 2067.3 1084.3 2068.8 1087.5 2070.3 1093.4 2071.8 1093.3 2073.3 1099.3 2074.8 1098.2 2076.3 1102.6 2077.8 1106.3 2079.3 1105.6 2080.8 1108.3 2082.3 1113.7 2083.8 1114.8 2085.3 1118.6 2086.8 1121.8 2088.3 1125.0 2089.8 1128.3 2091.3 1130.3 2092.8 1134.2 2094.3 1138.2 2095.8 1143.6 2097.3 1144.8 2098.8 1153.0 2100.3 1152.7 2101.8 1158.3 2103.3 1156.0 2104.8 1159.2 2106.3 1163.2 2107.8 1170.7 2109.3 1171.5 2110.8 1176.8 2112.3 1178.7 2113.8 1178.5 2115.3 1184.0 2116.8 1187.7 2118.3 1192.9 2119.8 1198.6 2121.3 1199.7 2122.8 1208.4 2124.3 1209.3 2125.8 1212.4 2127.3 1217.9 2128.8 1219.2 2130.3 1224.6 2131.8 1226.0 2133.3 1229.7 2134.8 1231.0 2136.3 1234.1 2137.8 1239.6 2139.3 1240.9 2140.8 1241.5 2142.3 1244.6 2143.8 1246.1 2145.3 1243.5 2146.8 1247.7 2148.3 1242.0 2149.8 1245.8 2151.3 1244.2 2152.8 1244.3 2154.3 1246.6 2155.8 1248.5 2157.3 1248.5 2158.8 1249.6 2160.3 1250.8 2161.8 1247.2 2163.3 1247.6 2164.8 1248.6 2166.3 1248.4 2167.8 1247.6 2169.3 1248.2 2170.8 1249.6 2172.3 1250.9 2173.8 1251.4 2175.3 1251.3 2176.8 1249.5 2178.3 1252.2 2179.8 1251.3 2181.3 1248.2 2182.8 1253.0 2184.3 1248.2 2185.8 1250.4 2187.3 1250.7 2188.8 1251.3 2190.3 1249.3 2191.8 1251.0 2193.3 1246.3 2194.8 1246.1 2196.3 1247.2 2197.8 1249.4 2199.3 1249.1 2200.8 1247.3 2202.3 1248.5 2203.8 1251.6 2205.3 1250.6 2206.8 1253.0 2208.3 1250.8 2209.8 1253.8 2211.3 1253.3 2212.8 1251.8 2214.3 1251.1 2215.8 1250.6 2217.3 1250.3 2218.8 1249.9 2228.0 1249.9"/>
<path stroke="#00f" stroke-width="12.8" d="M320.0 1442.0 320.6 1456.0 321.3 1450.6 322.8 1445.6 324.3 1445.7 325.8 1439.7 327.3 1440.0 328.8 1436.0 330.3 1434.7 331.8 1432.8 333.3 1431.7 334.8 1430.9 336.3 1424.3 337.8 1425.3 339.3 1419.3 340.8 1414.6 342.3 1412.4 343.8 1410.0 345.3 1410.1 346.8 1406.7 348.3 1402.8 349.8 1402.5 351.3 1400.9 352.8 1396.2 354.3 1393.5 355.8 1392.1 357.3 1386.3 358.8 1385.9 360.3 1378.9 361.8 1373.8 363.3 1374.1 364.8 1366.3 366.3 1362.8 367.8 1357.1 369.3 1349.5 370.8 1345.8 372.3 1339.7 373.8 1332.4 375.3 1329.3 376.8 1322.7 378.3 1315.5 379.8 1312.8 381.3 1304.9 382.8 1297.9 384.3 1297.4 385.8 1289.6 387.3 1281.4 388.8 1276.9 390.3 1271.0 391.8 1264.2 393.3 1260.6 394.8 1254.4 396.3 1249.6 397.8 1247.1 399.3 1239.5 400.8 1235.3 402.3 1231.8 403.8 1228.6 405.3 1223.9 406.8 1221.7 408.3 1219.1 409.8 1215.1 411.3 1207.9 412.8 1204.6 414.3 1200.3 415.8 1194.9 417.3 1191.6 418.8 1185.3 420.3 1182.1 421.8 1175.8 423.3 1171.8 424.8 1166.9 426.3 1157.9 427.8 1157.3 429.3 1148.1 430.8 1145.7 432.3 1141.8 433.8 1138.1 435.3 1130.3 436.8 1128.6 438.3 1121.5 439.8 1115.5 441.3 1113.9 442.8 1111.1 444.3 1105.0 445.8 1107.8 447.3 1101.0 448.8 1098.9 450.3 1096.9 451.8 1093.0 453.3 1094.2 454.8 1089.9 456.3 1086.2 457.8 1079.2 459.3 1079.1 460.8 1072.9 462.3 1069.4 463.8 1067.9 465.3 1060.9 466.8 1055.9 468.3 1058.0 469.8 1051.7 471.3 1049.7 472.8 1043.6 474.3 1038.0 475.8 1035.9 477.3 1030.7 478.8 1027.9 480.3 1024.1 481.8 1024.3 483.3 1021.2 484.8 1018.9 486.3 1019.3 487.8 1016.0 489.3 1012.6 490.8 1007.1 492.3 1007.6 493.8 1004.6 495.3 1002.2 496.8 999.0 498.3 996.3 499.8 995.3 501.3 993.0 502.8 993.1 504.3 987.9 505.8 987.0 507.3 984.9 508.8 981.2 510.3 975.7 511.8 973.4 513.3 974.1 514.8 968.1 516.3 966.3 517.8 968.3 519.3 969.0 520.8 967.7 522.3 965.2 523.8 965.3 525.3 962.3 526.8 960.9 528.3 963.2 529.8 959.9 531.3 963.4 532.8 959.1 534.3 958.4 535.8 963.1 537.3 958.4 538.8 958.7 540.3 955.4 541.8 958.0 543.3 950.8 544.8 952.2 546.3 952.1 547.8 947.4 549.3 944.7 550.8 943.5 552.3 942.5 553.8 944.5 555.3 941.5 556.8 942.6 558.3 940.5 559.8 939.0 561.3 936.4 562.8 936.0 564.3 937.9 565.8 937.3 567.3 933.4 568.8 934.4 570.3 932.7 571.8 930.0 573.3 928.5 574.8 930.3 576.3 931.2 577.8 930.9 579.3 927.4 580.8 925.8 582.3 927.7 583.8 925.3 585.3 930.3 586.8 925.9 588.3 928.5 589.8 925.1 591.3 929.3 592.8 926.8 594.3 928.2 595.8 927.0 597.3 928.2 598.8 925.0 600.3 925.1 601.8 926.9 603.3 929.8 604.8 929.4 606.3 927.3 607.8 926.3 609.3 923.9 610.8 928.3 612.3 927.2 613.8 926.8 615.3 928.6 616.8 925.4 618.3 927.2 619.8 927.7 621.3 928.3 622.8 924.2 624.3 926.9 625.8 928.4 627.3 927.2 628.8 926.1 630.3 930.1 631.8 927.0 633.3 928.0 634.8 931.0 636.3 930.0 637.8 929.8 639.3 931.9 640.8 931.3 642.3 929.7 643.8 930.5 645.3 933.6 646.8 934.6 648.3 930.5 649.8 933.6 651.3 933.7 652.8 933.0 654.3 931.9 655.8 935.2 657.3 938.1 658.8 938.2 660.3 935.2 661.8 938.6 663.3 937.5 664.8 935.2 666.3 935.2 667.8 935.6 669.3 937.9 670.8 938.9 672.3 940.0 673.8 945.0 675.3 945.5 676.8 944.6 678.3 948.0 679.8 947.9 681.3 949.3 682.8 949.2 684.3 949.4 685.8 950.5 687.3 951.0 688.8 952.2 690.3 953.0 691.8 951.1 693.3 951.7 694.8 951.4 696.3 955.6 697.8 956.7 699.3 954.9 700.8 955.6 702.3 955.2 703.8 960.2 705.3 959.0 706.8 960.5 708.3 959.5 709.8 960.2 711.3 962.8 712.8 964.6 714.3 965.5 715.8 964.6 717.3 966.1 718.8 970.1 720.3 970.2 721.8 974.4 723.3 973.8 724.8 977.5 726.3 974.2 727.8 975.0 729.3 976.4 730.8 978.8 732.3 979.5 733.8 983.3 735.3 984.5 736.8 979.6 738.3 985.0 739.8 982.9 741.3 985.9 742.8 983.1 744.3 987.0 745.8 982.8 747.3 986.8 748.8 987.1 750.3 986.8 751.8 987.3 753.3 988.2 754.8 989.2 756.3 989.7 757.8 991.5 759.3 992.7 760.8 994.4 762.3 992.7 763.8 991.5 765.3 994.5 766.8 993.7 768.3 993.3 769.8 995.5 771.3 995.9 772.8 998.5 774.3 997.2 775.8 1000.9 777.3 1000.9 778.8 998.0 780.3 1000.6 781.8 1005.6 783.3 1003.9 784.8 1001.1 786.3 1005.9 787.8 1006.6 789.3 1003.4 790.8 1006.1 792.3 1005.8 793.8 1007.8 795.3 1009.8 796.8 1007.8 798.3 1007.2 799.8 1008.3 801.3 1011.3 802.8 1009.9 804.3 1012.8 805.8 1016.0 807.3 1016.2 808.8 1016.8 810.3 1013.3 811.8 1016.5 813.3 1016.1 814.8 1018.0 816.3 1016.7 817.8 1018.3 819.3 1023.0 820.8 1023.0 822.3 1020.3 823.8 1024.8 825.3 1020.2 826.8 1022.9 828.3 1027.3 829.8 1028.0 831.3 1026.6 832.8 1029.9 834.3 1028.9 835.8 1033.0 837.3 1031.0 838.8 1030.5 840.3 1031.0 841.8 1035.4 843.3 1035.7 844.8 1038.7 846.3 1035.9 847.8 1040.2 849.3 1041.3 850.8 1040.5 852.3 1037.6 853.8 1038.8 855.3 1039.2 856.8 1041.6 858.3 1045.2 859.8 1041.7 861.3 1043.5 862.8 1042.3 864.3 1046.3 865.8 1043.0 867.3 1047.6 868.8 1047.9 870.3 1045.5 871.8 1049.1 873.3 1047.9 874.8 1050.5 876.3 1051.5 877.8 1051.0 879.3 1051.9 880.8 1055.1 882.3 1055.1 883.8 1055.2 885.3 1053.6 886.8 1054.9 888.3 1051.8 889.8 1057.7 891.3 1053.5 892.8 1058.9 894.3 1059.9 895.8 1059.1 897.3 1062.4 898.8 1064.4 900.3 1062.7 901.8 1066.1 903.3 1064.0 904.8 1068.5 906.3 1066.6 907.8 1070.9 909.3 1069.3 910.8 1073.1 912.3 1077.7 913.8 1076.4 915.3 1081.5 916.8 1079.7 918.3 1078.1 919.8 1082.2 921.3 1077.2 922.8 1079.3 924.3 1081.5 925.8 1081.3 927.3 1078.5 928.8 1077.4 930.3 1079.4 931.8 1078.4 933.3 1079.4 934.8 1080.7 936.3 1080.4 937.8 1079.5 939.3 1084.2 940.8 1081.0 942.3 1084.6 943.8 1084.0 945.3 1086.3 946.8 1085.8 948.3 1085.0 949.8 1087.3 951.3 1086.4 952.8 1088.7 954.3 1088.9 955.8 1091.3 957.3 1091.9 958.8 1092.0 960.3 1091.1 961.8 1092.7 963.3 1092.3 964.8 1097.0 966.3 1097.9 967.8 1099.8 969.3 1096.0 970.8 1096.3 972.3 1100.1 973.8 1101.0 975.3 1099.0 976.8 1099.7 978.3 1103.1 979.8 1103.6 981.3 1103.7 982.8 1104.6 984.3 1106.3 985.8 1106.3 987.3 1108.3 988.8 1108.4 990.3 1110.7 991.8 1113.7 993.3 1114.1 994.8 1114.1 996.3 1113.6 997.8 1112.8 999.3 1113.6 1000.8 1115.0 1002.3 1120.1 1003.8 1120.4 1005.3 1120.1 1006.8 1120.5 1008.3 1121.9 1009.8 1123.4 1011.3 1121.4 1012.8 1125.5 1014.3 1125.6 1015.8 1124.5 1017.3 1125.1 1018.8 1124.5 1020.3 1126.8 1021.8 1130.0 1023.3 1129.0 1024.8 1125.8 1026.3 1126.4 1027.8 1128.3 1029.3 1127.6 1030.8 1127.7 1032.3 1132.6 1033.8 1132.1 1035.3 1134.4 1036.8 1134.9 1038.3 1140.6 1039.8 1139.1 1041.3 1137.2 1042.8 1141.5 1044.3 1139.3 1045.8 1140.5 1047.3 1140.9 1048.8 1142.9 1050.3 1143.3 1051.8 1144.6 1053.3 1145.0 1054.8 1149.6 1056.3 1145.8 1057.8 1146.0 1059.3 1147.9 1060.8 1148.0 1062.3 1149.5 1063.8 1151.5 1065.3 1154.1 1066.8 1154.4 1068.3 1153.1 1069.8 1156.8 1071.3 1158.0 1072.8 1156.0 1074.3 1157.5 1075.8 1161.5 1077.3 1161.4 1078.8 1166.2 1080.3 1163.2 1081.8 1167.9 1083.3 1169.4 1084.8 1170.6 1086.3 1176.1 1087.8 1173.7 1089.3 1178.3 1090.8 1179.3 1092.3 1180.8 1093.8 1177.4 1095.3 1179.5 1096.8 1179.8 1098.3 1182.5 1099.8 1186.4 1101.3 1185.4 1102.8 1183.6 1104.3 1184.2 1105.8 1188.4 1107.3 1188.1 1108.8 1186.4 1110.3 1189.9 1111.8 1188.1 1113.3 1188.6 1114.8 1188.2 1116.3 1192.4 1117.8 1190.1 1119.3 1192.1 1120.8 1191.5 1122.3 1194.0 1123.8 1196.7 1125.3 1198.4 1126.8 1200.0 1128.3 1197.0 1129.8 1197.8 1131.3 1200.6 1132.8 1201.1 1134.3 1206.1 1135.8 1206.1 1137.3 1207.6 1138.8 1208.5 1140.3 1209.9 1141.8 1209.3 1143.3 1208.4 1144.8 1213.9 1146.3 1212.6 1147.8 1218.6 1149.3 1215.8 1150.8 1216.4 1152.3 1218.4 1153.8 1221.0 1155.3 1219.1 1156.8 1221.6 1158.3 1223.2 1159.8 1222.4 1161.3 1224.8 1162.8 1228.9 1164.3 1229.7 1165.8 1226.2 1167.3 1231.2 1168.8 1228.3 1170.3 1233.4 1171.8 1231.0 1173.3 1234.1 1174.8 1235.2 1176.3 1235.8 1177.8 1240.6 1179.3 1239.0 1180.8 1239.1 1182.3 1241.9 1183.8 1246.8 1185.3 1245.7 1186.8 1246.5 1188.3 1248.9 1189.8 1255.1 1191.3 1253.8 1192.8 1252.4 1194.3 1257.1 1195.8 1257.3 1197.3 1258.7 1198.8 1262.5 1200.3 1263.0 1201.8 1263.4 1203.3 1266.8 1204.8 1265.6 1206.3 1267.4 1207.8 1270.5 1209.3 1272.0 1210.8 1272.2 1212.3 1271.2 1213.8 1271.4 1215.3 1270.8 1216.8 1272.8 1218.3 1276.9 1219.8 1276.3 1221.3 1280.3 1222.8 1279.9 1224.3 1281.5 1225.8 1283.6 1227.3 1282.9 1228.8 1285.0 1230.3 1285.7 1231.8 1285.7 1233.3 1289.8 1234.8 1287.5 1236.3 1293.6 1237.8 1293.5 1239.3 1294.3 1240.8 1293.0 1242.3 1294.2 1243.8 1294.1 1245.3 1295.8 1246.8 1296.0 1248.3 1300.5 1249.8 1301.5 1251.3 1300.9 1252.8 1304.8 1254.3 1303.0 1255.8 1306.7 1257.3 1308.7 1258.8 1308.6 1260.3 1310.3 1261.8 1309.8 1263.3 1311.6 1264.8 1311.3 1266.3 1309.7 1267.8 1312.1 1269.3 1316.4 1270.8 1313.3 1272.3 1318.1 1273.8 1316.9 1275.3 1320.7 1276.8 1323.9 1278.3 1323.3 1279.8 1320.1 1281.3 1325.1 1282.8 1325.0 1284.3 1327.4 1285.8 1325.1 1287.3 1326.8 1288.8 1330.5 1290.3 1330.9 1291.8 1332.9 1293.3 1331.4 1294.8 1333.0 1296.3 1335.0 1297.8 1333.9 1299.3 1331.3 1300.8 1332.9 1302.3 1333.6 1303.8 1335.9 1305.3 1336.5 1306.8 1339.1 1308.3 1340.8 1309.8 1342.6 1311.3 1340.4 1312.8 1339.9 1314.3 1343.7 1315.8 1344.3 1317.3 1344.3 1318.8 1338.9 1320.3 1342.3 1321.8 1343.4 1323.3 1343.4 1324.8 1342.3 1326.3 1347.2 1327.8 1344.5 1329.3 1342.7 1330.8 1345.4 1332.3 1348.7 1333.8 1346.4 1335.3 1350.5 1336.8 1347.4 1338.3 1348.7 1339.8 1347.8 1341.3 1346.8 1342.8 1351.2 1344.3 1349.5 1345.8 1352.1 1347.3 1353.7 1348.8 1350.5 1350.3 1349.9 1351.8 1352.4 1353.3 1351.1 1354.8 1354.8 1356.3 1352.3 1357.8 1354.5 1359.3 1350.6 1360.8 1351.7 1362.3 1351.1 1363.8 1354.8 1365.3 1353.9 1366.8 1354.5 1368.3 1352.0 1369.8 1353.4 1371.3 1357.0 1372.8 1356.1 1374.3 1357.4 1375.8 1356.4 1377.3 1356.4 1378.8 1359.8 1380.3 1356.4 1381.8 1356.2 1383.3 1359.3 1384.8 1356.5 1386.3 1360.2 1387.8 1359.9 1389.3 1358.2 1390.8 1358.5 1392.3 1358.4 1393.8 1357.1 1395.3 1358.3 1396.8 1360.1 1398.3 1358.6 1399.8 1360.0 1401.3 1360.3 1402.8 1360.9 1404.3 1360.0 1405.8 1358.8 1407.3 1361.5 1408.8 1362.8 1410.3 1363.1 1411.8 1364.5 1413.3 1361.9 1414.8 1365.2 1416.3 1363.4 1417.8 1361.3 1419.3 1363.6 1420.8 1364.3 1422.3 1365.0 1423.8 1365.2 1425.3 1367.4 1426.8 1367.7 1428.3 1366.6 1429.8 1364.2 1431.3 1365.1 1432.8 1369.4 1434.3 1366.4 1435.8 1368.2 1437.3 1364.6 1438.8 1367.5 1440.3 1367.0 1441.8 1367.9 1443.3 1369.0 1444.8 1366.9 1446.3 1365.3 1447.8 1365.7 1449.3 1366.6 1450.8 1366.8 1452.3 1370.1 1453.8 1368.5 1455.3 1368.5 1456.8 1368.7 1458.3 1365.2 1459.8 1365.7 1461.3 1366.9 1462.8 1364.5 1464.3 1364.6 1465.8 1367.0 1467.3 1366.2 1468.8 1363.7 1470.3 1363.5 1471.8 1367.5 1473.3 1366.3 1474.8 1365.9 1476.3 1368.3 1477.8 1367.6 1479.3 1369.8 1480.8 1364.1 1482.3 1367.3 1483.8 1364.9 1485.3 1364.1 1486.8 1365.1 1488.3 1363.1 1489.8 1363.6 1491.3 1363.0 1492.8 1366.2 1494.3 1365.4 1495.8 1362.4 1497.3 1362.4 1498.8 1364.5 1500.3 1362.0 1501.8 1361.4 1503.3 1363.3 1504.8 1360.5 1506.3 1360.5 1507.8 1360.3 1509.3 1357.1 1510.8 1359.4 1512.3 1362.0 1513.8 1361.5 1515.3 1362.4 1516.8 1358.8 1518.3 1359.1 1519.8 1357.1 1521.3 1356.2 1522.8 1355.4 1524.3 1355.6 1525.8 1354.7 1527.3 1355.0 1528.8 1354.1 1530.3 1355.5 1531.8 1355.2 1533.3 1353.5 1534.8 1354.0 1536.3 1351.9 1537.8 1349.9 1539.3 1349.8 1540.8 1349.4 1542.3 1350.2 1543.8 1348.6 1545.3 1343.3 1546.8 1346.8 1548.3 1344.0 1549.8 1346.2 1551.3 1347.8 1552.8 1346.3 1554.3 1341.6 1555.8 1342.6 1557.3 1341.3 1558.8 1342.6 1560.3 1342.1 1561.8 1341.5 1563.3 1337.3 1564.8 1336.4 1566.3 1333.4 1567.8 1336.2 1569.3 1334.6 1570.8 1328.9 1572.3 1331.7 1573.8 1331.3 1575.3 1328.1 1576.8 1326.6 1578.3 1326.7 1579.8 1329.0 1581.3 1323.7 1582.8 1325.5 1584.3 1326.5 1585.8 1321.1 1587.3 1323.9 1588.8 1321.6 1590.3 1320.6 1591.8 1321.4 1593.3 1319.7 1594.8 1321.7 1596.3 1321.3 1597.8 1318.3 1599.3 1315.3 1600.8 1316.3 1602.3 1318.0 1603.8 1315.1 1605.3 1310.3 1606.8 1310.4 1608.3 1310.3 1609.8 1309.1 1611.3 1306.0 1612.8 1304.0 1614.3 1305.3 1615.8 1304.6 1617.3 1302.8 1618.8 1301.5 1620.3 1301.2 1621.8 1296.3 1623.3 1296.2 1624.8 1296.5 1626.3 1294.6 1627.8 1293.2 1629.3 1292.1 1630.8 1290.2 1632.3 1286.4 1633.8 1290.5 1635.3 1290.6 1636.8 1287.3 1638.3 1284.4 1639.8 1283.8 1641.3 1284.6 1642.8 1280.3 1644.3 1278.4 1645.8 1276.0 1647.3 1276.3 1648.8 1273.4 1650.3 1269.6 1651.8 1270.2 1653.3 1271.6 1654.8 1265.1 1656.3 1262.8 1657.8 1260.7 1659.3 1259.1 1660.8 1257.4 1662.3 1258.5 1663.8 1255.2 1665.3 1254.0 1666.8 1251.6 1668.3 1249.3 1669.8 1251.1 1671.3 1246.7 1672.8 1246.3 1674.3 1244.8 1675.8 1243.8 1677.3 1242.1 1678.8 1238.3 1680.3 1236.1 1681.8 1233.0 1683.3 1233.0 1684.8 1233.0 1686.3 1229.9 1687.8 1230.5 1689.3 1227.9 1690.8 1226.3 1692.3 1224.5 1693.8 1220.3 1695.3 1219.9 1696.8 1217.1 1698.3 1218.3 1699.8 1218.4 1701.3 1216.7 1702.8 1212.3 1704.3 1212.4 1705.8 1209.7 1707.3 1210.6 1708.8 1209.2 1710.3 1206.9 1711.8 1205.3 1713.3 1208.5 1714.8 1204.4 1716.3 1206.0 1717.8 1200.9 1719.3 1200.1 1720.8 1202.4 1722.3 1203.6 1723.8 1198.8 1725.3 1202.4 1726.8 1199.1 1728.3 1199.4 1729.8 1198.6 1731.3 1194.0 1732.8 1196.2 1734.3 1191.3 1735.8 1191.8 1737.3 1190.4 1738.8 1189.0 1740.3 1189.9 1741.8 1191.5 1743.3 1187.0 1744.8 1189.3 1746.3 1190.1 1747.8 1187.8 1749.3 1189.8 1750.8 1187.7 1752.3 1189.0 1753.8 1188.3 1755.3 1189.5 1756.8 1190.5 1758.3 1190.5 1759.8 1188.5 1761.3 1187.7 1762.8 1186.6 1764.3 1188.8 1765.8 1188.2 1767.3 1188.2 1768.8 1187.5 1770.3 1186.1 1771.8 1188.6 1773.3 1187.6 1774.8 1186.7 1776.3 1187.8 1777.8 1186.4 1779.3 1186.7 1780.8 1187.3 1782.3 1185.3 1783.8 1187.1 1785.3 1184.9 1786.8 1185.5 1788.3 1188.8 1789.8 1189.3 1791.3 1189.5 1792.8 1188.4 1794.3 1188.9 1795.8 1189.2 1797.3 1187.9 1798.8 1187.1 1800.3 1186.8 1801.8 1191.9 1803.3 1192.2 1804.8 1191.6 1806.3 1191.5 1807.8 1192.9 1809.3 1194.2 1810.8 1193.3 1812.3 1194.9 1813.8 1193.5 1815.3 1196.1 1816.8 1197.4 1818.3 1198.5 1819.8 1198.0 1821.3 1198.0 1822.8 1201.5 1824.3 1199.1 1825.8 1203.6 1827.3 1200.7 1828.8 1204.2 1830.3 1203.1 1831.8 1207.3 1833.3 1204.7 1834.8 1206.2 1836.3 1211.0 1837.8 1211.9 1839.3 1211.2 1840.8 1213.0 1842.3 1214.8 1843.8 1213.0 1845.3 1215.5 1846.8 1217.2 1848.3 1217.4 1849.8 1218.2 1851.3 1224.3 1852.8 1221.9 1854.3 1227.9 1855.8 1228.7 1857.3 1228.2 1858.8 1231.7 1860.3 1228.4 1861.8 1233.8 1863.3 1233.8 1864.8 1235.5 1866.3 1240.5 1867.8 1237.7 1869.3 1243.2 1870.8 1240.4 1872.3 1245.3 1873.8 1244.9 1875.3 1247.4 1876.8 1250.6 1878.3 1252.7 1879.8 1250.5 1881.3 1253.1 1882.8 1255.6 1884.3 1258.9 1885.8 1255.2 1887.3 1261.2 1888.8 1261.8 1890.3 1263.5 1891.8 1260.1 1893.3 1261.8 1894.8 1265.2 1896.3 1265.0 1897.8 1266.0 1899.3 1266.6 1900.8 1268.3 1902.3 1273.2 1903.8 1274.8 1905.3 1273.9 1906.8 1277.4 1908.3 1276.6 1909.8 1277.4 1911.3 1277.8 1912.8 1277.9 1914.3 1279.0 1915.8 1283.0 1917.3 1281.4 1918.8 1281.5 1920.3 1284.1 1921.8 1287.9 1923.3 1287.2 1924.8 1285.0 1926.3 1287.4 1927.8 1287.6 1929.3 1285.1 1930.8 1290.7 1932.3 1291.0 1933.8 1286.4 1935.3 1289.9 1936.8 1290.3 1938.3 1289.7 1939.8 1290.9 1941.3 1290.1 1942.8 1294.0 1944.3 1292.2 1945.8 1295.0 1947.3 1295.6 1948.8 1295.6 1950.3 1294.8 1951.8 1294.1 1953.3 1297.6 1954.8 1299.3 1956.3 1300.0 1957.8 1297.6 1959.3 1297.2 1960.8 1302.0 1962.3 1300.1 1963.8 1297.8 1965.3 1301.7 1966.8 1299.9 1968.3 1303.7 1969.8 1304.0 1971.3 1305.3 1972.8 1302.5 1974.3 1306.7 1975.8 1307.0 1977.3 1308.6 1978.8 1308.2 1980.3 1305.6 1981.8 1310.4 1983.3 1309.8 1984.8 1309.5 1986.3 1310.2 1987.8 1308.2 1989.3 1311.0 1990.8 1310.5 1992.3 1309.1 1993.8 1309.9 1995.3 1309.4 1996.8 1311.1 1998.3 1314.3 1999.8 1311.1 2001.3 1310.1 2002.8 1311.9 2004.3 1307.6 2005.8 1307.6 2007.3 1311.0 2008.8 1307.9 2010.3 1310.7 2011.8 1312.6 2013.3 1310.5 2014.8 1307.0 2016.3 1307.0 2017.8 1308.6 2019.3 1310.7 2020.8 1308.3 2022.3 1308.4 2023.8 1307.9 2025.3 1305.2 2026.8 1306.3 2028.3 1302.9 2029.8 1305.1 2031.3 1307.1 2032.8 1303.1 2034.3 1303.8 2035.8 1303.3 2037.3 1299.6 2038.8 1303.1 2040.3 1300.7 2041.8 1305.4 2043.3 1302.6 2044.8 1303.6 2046.3 1304.7 2047.8 1303.3 2049.3 1300.5 2050.8 1298.5 2052.3 1300.8 2053.8 1299.9 2055.3 1296.7 2056.8 1297.7 2058.3 1299.5 2059.8 1297.3 2061.3 1295.7 2062.8 1297.8 2064.3 1297.5 2065.8 1299.4 2067.3 1296.4 2068.8 1293.1 2070.3 1292.3 2071.8 1290.8 2073.3 1294.3 2074.8 1290.5 2076.3 1290.5 2077.8 1294.9 2079.3 1290.9 2080.8 1294.0 2082.3 1295.2 2083.8 1294.5 2085.3 1290.1 2086.8 1291.9 2088.3 1291.0 2089.8 1293.2 2091.3 1290.5 2092.8 1290.2 2094.3 1291.1 2095.8 1288.9 2097.3 1291.9 2098.8 1289.7 2100.3 1289.0 2101.8 1287.3 2103.3 1288.5 2104.8 1288.4 2106.3 1287.8 2107.8 1289.8 2109.3 1286.4 2110.8 1288.8 2112.3 1285.8 2113.8 1285.3 2115.3 1284.9 2116.8 1289.3 2118.3 1284.5 2119.8 1286.8 2121.3 1289.3 2122.8 1285.9 2124.3 1286.5 2125.8 1286.0 2127.3 1288.1 2128.8 1284.2 2130.3 1288.1 2131.8 1284.0 2133.3 1286.8 2134.8 1287.9 2136.3 1286.5 2137.8 1286.2 2139.3 1284.7 2140.8 1283.4 2142.3 1287.7 2143.8 1284.8 2145.3 1286.1 2146.8 1286.8 2148.3 1289.2 2149.8 1285.1 2151.3 1284.0 2152.8 1288.6 2154.3 1286.8 2155.8 1287.9 2157.3 1287.8 2158.8 1289.4 2160.3 1289.4 2161.8 1288.8 2163.3 1284.1 2164.8 1289.5 2166.3 1285.0 2167.8 1290.0 2169.3 1285.0 2170.8 1289.2 2172.3 1288.5 2173.8 1285.3 2175.3 1288.4 2176.8 1286.9 2178.3 1285.0 2179.8 1289.0 2181.3 1287.4 2182.8 1286.5 2184.3 1289.2 2185.8 1285.7 2187.3 1285.6 2188.8 1290.0 2190.3 1286.6 2191.8 1290.4 2193.3 1287.4 2194.8 1290.3 2196.3 1287.3 2197.8 1288.6 2199.3 1288.9 2200.8 1287.1 2202.3 1288.9 2203.8 1290.0 2205.3 1287.1 2206.8 1291.8 2208.3 1291.4 2209.8 1287.5 2211.3 1288.2 2212.8 1289.7 2214.3 1292.1 2215.8 1291.1 2217.3 1290.8 2218.8 1293.2 2220.3 1290.9 2221.8 1294.3 2228.0 1294.3"/></g>
<g font-family="'Liberation Serif', serif" font-size="81.4" text-anchor="middle" fill="#000" stroke="#000" stroke-width="0.6">
<text transform="translate(311.5 1602) scale(0.921 1)">100</text>
<text transform="translate(566.2 1602) scale(0.921 1)">200</text>
<text transform="translate(820.9 1602) scale(0.921 1)">300</text>
<text transform="translate(1075.6 1602) scale(0.921 1)">400</text>
<text transform="translate(1330.3 1602) scale(0.921 1)">500</text>
<text transform="translate(1585.0 1602) scale(0.921 1)">600</text>
<text transform="translate(1839.7 1602) scale(0.921 1)">700</text>
<text transform="translate(2094.4 1602) scale(0.921 1)">800</text>
</g>
<g stroke-width="12.2" stroke-linecap="round">
<path d="M1219 226.9 H1382.6" stroke="#000"/>
<path d="M1219 318.7 H1382.6" stroke="#f00"/>
<path d="M1219 410.9 H1382.6" stroke="#00f"/>
</g>
<g font-family="'Liberation Serif', serif" font-size="78.8" fill="#000" stroke="#000" stroke-width="0.6">
<text transform="translate(1403 251.8) scale(0.892 1)">TNPs-1</text>
<text transform="translate(1403 343.9) scale(0.892 1)">TNPs-2</text>
<text transform="translate(1403 436.3) scale(0.892 1)">TNPs-3</text>
</g>
<g font-family="'Liberation Serif', serif" font-size="112" fill="#000" stroke="#000" stroke-width="0.7">
<text transform="translate(881.5 1770.7) scale(0.978 1)">Temperature (</text>
<text transform="translate(1502 1771.7) scale(1 1.04)" stroke="#fff" stroke-width="1.8" font-family="'Liberation Serif', 'IPAGothic', serif">℃</text>
<text x="1617.6" y="1770.7">)</text>
<text font-size="113" transform="translate(161.9 1156.55) rotate(-90) scale(0.9637 1)">Intensity</text>
<text font-size="113" transform="translate(161.9 746.85) rotate(-90) scale(1.011 1)">(a.u.)</text>
</g>
</svg>
</body></html>
